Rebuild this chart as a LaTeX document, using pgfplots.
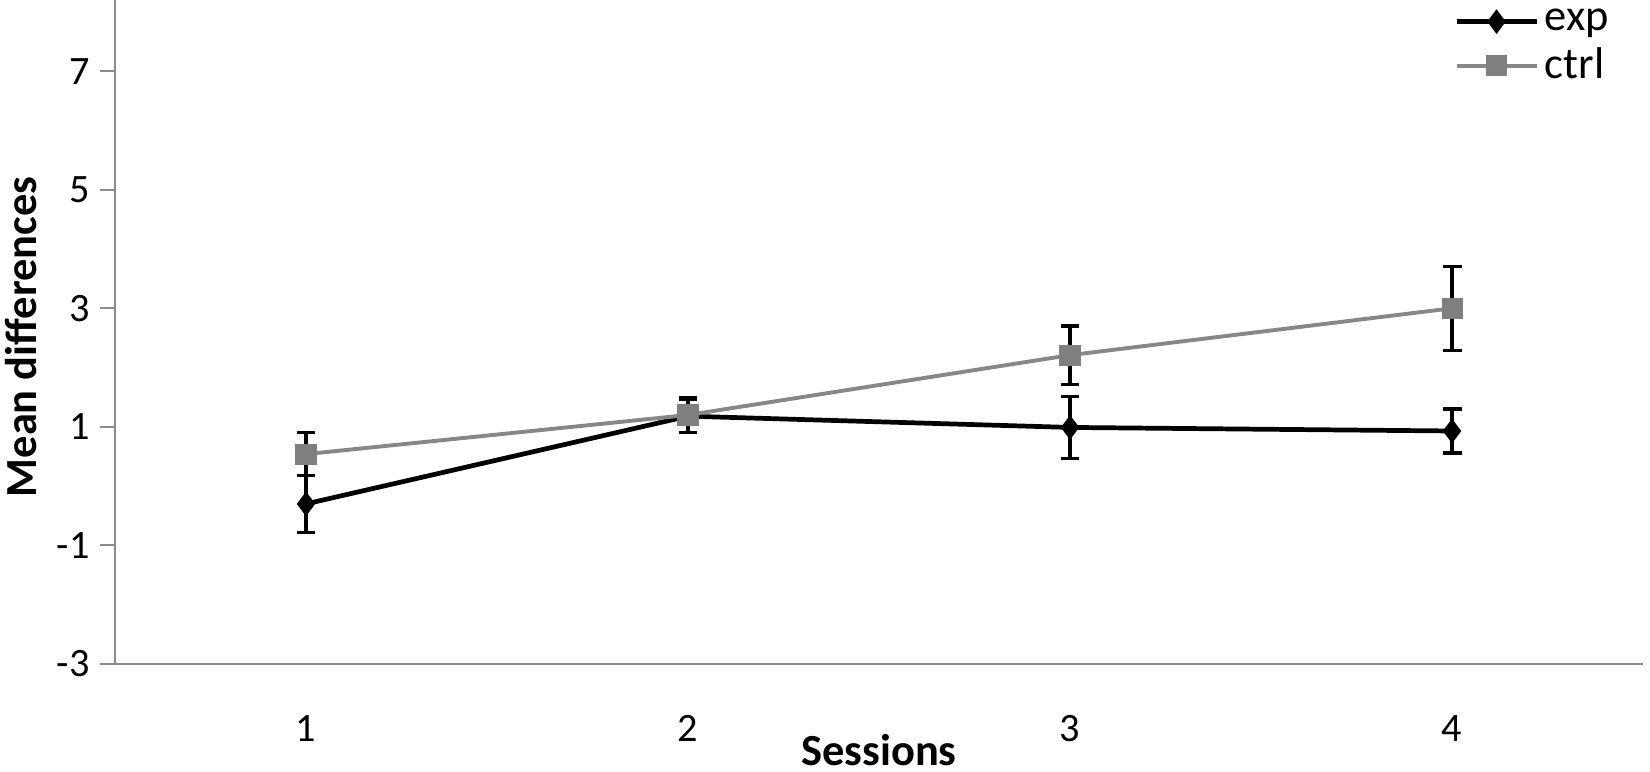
\documentclass[border=0pt]{standalone}
\usepackage{pgfplots}
\pgfplotsset{compat=1.18}
\usepackage{fontspec}
\setmainfont{Carlito}
\definecolor{axgray}{HTML}{8C8C8C}
\definecolor{ctrlgray}{HTML}{878787}
\definecolor{ctrlmark}{HTML}{7F7F7F}
\begin{document}
\begin{tikzpicture}[x=1bp,y=1bp]
\begin{axis}[
  at={(41.4bp,38.9bp)}, anchor=south west,
  scale only axis, width=550.1bp, height=239bp,
  xmin=0.5, xmax=4.5, ymin=-3, ymax=8.2,
  axis x line*=bottom, axis y line*=left,
  axis line style={draw=axgray, line width=0.75bp},
  xtick={1,2,3,4}, ytick={-3,-1,1,3,5,7},
  x tick style={draw=none},
  y tick style={draw=axgray, line width=0.75bp},
  tick align=outside, major tick length=5.4bp,
  /pgf/number format/assume math mode=true,
  tick label style={font=\fontsize{14.5bp}{17bp}\selectfont, text=black},
  xticklabel style={anchor=base, yshift=-22.5bp},
  yticklabel style={anchor=east, inner sep=0pt, xshift=-3.5bp},
  every axis x label/.style={at={(axis description cs:0.5,0)}, anchor=base, yshift=-36.4bp, font=\fontsize{16bp}{19bp}\selectfont\bfseries},
  every axis y label/.style={at={(axis description cs:0,0.4925)}, rotate=90, anchor=base, yshift=28.4bp, font=\fontsize{16bp}{19bp}\selectfont\bfseries},
  xlabel={Sessions}, ylabel={Mean differences},
  legend cell align=left,
  legend image code/.code={\draw[mark repeat=2,mark phase=2,#1] plot coordinates {(0bp,0bp) (14.4bp,0bp) (28.8bp,0bp)};},
  legend style={draw=none, fill=none, at={(0.876,0.997)}, anchor=north west,
    font=\fontsize{16bp}{19bp}\selectfont, row sep=0.5bp, inner sep=0pt,
    nodes={inner sep=2.2bp}},
  clip=false,
]
\addplot[black, line width=1.7bp, mark=diamond*, mark size=3.6bp, mark options={solid, fill=black, line width=1bp},
  error bars/.cd, y dir=both, y explicit,
  error bar style={black, line width=1.15bp},
  error mark options={rotate=90, mark size=3.4bp, line width=1.15bp, black}]
  coordinates {
  (1,-0.30) +- (0,0.48)
  (2,1.18)  +- (0,0.28)
  (3,0.99)  +- (0,0.52)
  (4,0.93)  +- (0,0.37)
  };
\addlegendentry{exp}
\addplot[ctrlgray, line width=1.4bp, mark=square*, mark size=3.5bp, mark options={solid, fill=ctrlmark, draw=ctrlmark, line width=0.6bp},
  error bars/.cd, y dir=both, y explicit,
  error bar style={black, line width=1.15bp},
  error mark options={rotate=90, mark size=3.4bp, line width=1.15bp, black}]
  coordinates {
  (1,0.54) +- (0,0.36)
  (2,1.20) +- (0,0.29)
  (3,2.21) +- (0,0.49)
  (4,3.00) +- (0,0.71)
  };
\addlegendentry{ctrl}
\end{axis}
\pgfresetboundingbox
\path[use as bounding box] (0,0) rectangle (594bp,277.92bp);
\end{tikzpicture}
\end{document}
